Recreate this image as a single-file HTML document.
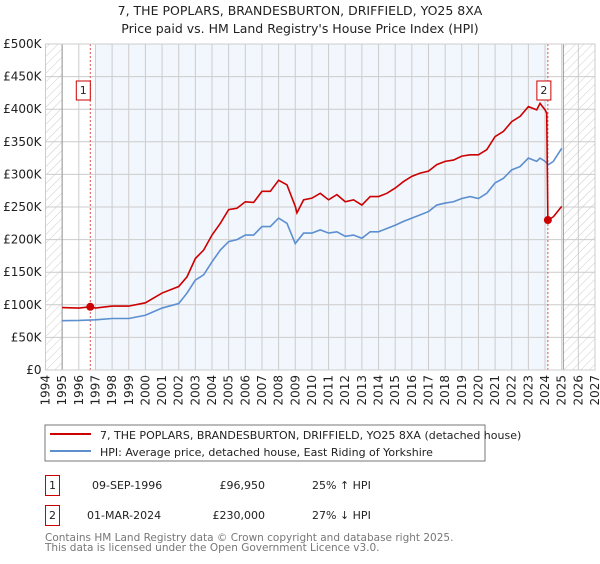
<!DOCTYPE html>
<html><head><meta charset="utf-8"><style>
body{margin:0;background:#fff;font-family:"DejaVu Sans","Liberation Sans",sans-serif;}
svg text{font-family:"DejaVu Sans","Liberation Sans",sans-serif;}
</style></head><body>
<svg id="c" width="600" height="560" xmlns="http://www.w3.org/2000/svg">
<defs><pattern id="hatch" width="6" height="6" patternUnits="userSpaceOnUse" patternTransform="rotate(45)"><line x1="0" y1="0" x2="0" y2="6" stroke="#ccc" stroke-width="1"/></pattern></defs>
<text x="300" y="15" text-anchor="middle" font-size="12.5" fill="#222">7, THE POPLARS, BRANDESBURTON, DRIFFIELD, YO25 8XA</text>
<text x="300" y="33" text-anchor="middle" font-size="12.5" fill="#222">Price paid vs. HM Land Registry's House Price Index (HPI)</text>
<g id="plot"></g>
<g>
<rect x="45" y="425" width="440" height="36" fill="#fff" stroke="#777" stroke-width="1"/>
<line x1="50" y1="434" x2="91" y2="434" stroke="#cc0000" stroke-width="2"/>
<text x="100" y="439" font-size="11" fill="#222">7, THE POPLARS, BRANDESBURTON, DRIFFIELD, YO25 8XA (detached house)</text>
<line x1="50" y1="451" x2="91" y2="451" stroke="#5b8fd0" stroke-width="2"/>
<text x="100" y="456" font-size="11" fill="#222">HPI: Average price, detached house, East Riding of Yorkshire</text>
</g>
<g font-size="11" fill="#222">
<rect x="45.5" y="475.5" width="14" height="20" fill="none" stroke="#cc0000"/>
<text x="52.5" y="489" text-anchor="middle">1</text>
<text x="92" y="489">09-SEP-1996</text>
<text x="265" y="489" text-anchor="end">£96,950</text>
<text x="312" y="489">25% ↑ HPI</text>
<rect x="45.5" y="505.5" width="14" height="20" fill="none" stroke="#cc0000"/>
<text x="52.5" y="519" text-anchor="middle">2</text>
<text x="87" y="519">01-MAR-2024</text>
<text x="265" y="519" text-anchor="end">£230,000</text>
<text x="312" y="519">27% ↓ HPI</text>
</g>
<text x="45" y="541" font-size="10.5" fill="#777">Contains HM Land Registry data © Crown copyright and database right 2025.</text>
<text x="45" y="551" font-size="10.5" fill="#777">This data is licensed under the Open Government Licence v3.0.</text>
</svg>
<script>
const yTicks=[0,50,100,150,200,250,300,350,400,450,500];
const yTickLabels=["£0","£50K","£100K","£150K","£200K","£250K","£300K","£350K","£400K","£450K","£500K"];
const years=[1994,1995,1996,1997,1998,1999,2000,2001,2002,2003,2004,2005,2006,2007,2008,2009,2010,2011,2012,2013,2014,2015,2016,2017,2018,2019,2020,2021,2022,2023,2024,2025,2026,2027];
const hpiX=[1995,1996,1997,1998,1999,2000,2001,2002,2002.5,2003,2003.5,2004,2004.5,2005,2005.5,2006,2006.5,2007,2007.5,2008,2008.5,2009,2009.5,2010,2010.5,2011,2011.5,2012,2012.5,2013,2013.5,2014,2014.5,2015,2015.5,2016,2016.5,2017,2017.5,2018,2018.5,2019,2019.5,2020,2020.5,2021,2021.5,2022,2022.5,2023,2023.5,2023.7,2024,2024.2,2024.5,2025];
const hpiY=[75.7,76,77,79,79,84,95,102,118,138,146,166,184,197,200,207,207,220,220,233,225,194,210,210,215,210,212,205,207,202,212,212,217,222,228,233,238,243,253,256,258,263,266,263,271,287,294,307,312,325,320,325,320,315,320,340];
const priceX=[1995,1996,1996.69,1997,1998,1999,2000,2001,2002,2002.5,2003,2003.5,2004,2004.5,2005,2005.5,2006,2006.5,2007,2007.5,2008,2008.5,2009,2009.1,2009.5,2010,2010.5,2011,2011.5,2012,2012.5,2013,2013.5,2014,2014.5,2015,2015.5,2016,2016.5,2017,2017.5,2018,2018.5,2019,2019.5,2020,2020.5,2021,2021.5,2022,2022.5,2023,2023.5,2023.7,2024,2024.1,2024.17,2024.5,2025];
const priceY=[95.7,95,96.95,95,98,98,103,118,128,143,171,184,207,225,246,248,258,257,274,274,291,284,251,241,261,263.6,271,261,269,258,261,253,266,266,271,279,289,297,302,305,315,320,322,328,330,330,338,358,366,381,389,404,399,409,399,394,230,235,251];
const saleX=[1996.69,2024.17];
const saleY=[96.95,230];
const saleLabels=["1","2"];

const NS="http://www.w3.org/2000/svg";
const L=45.5,R=595,T=44,B=370;
const xS=y=>L+(y-1994)*(R-L)/33;
const yS=v=>B-v*(B-T)/500;
const g=document.getElementById('plot');
function mk(t,a){const e=document.createElementNS(NS,t);for(const k in a)e.setAttribute(k,a[k]);g.appendChild(e);return e;}
let e;
e=mk('rect',{x:xS(1997),y:T,width:xS(2024.17)-xS(1997),height:B-T,fill:'#f2f6fd'});


e=mk('rect',{x:L,y:T,width:xS(1995)-L,height:B-T,fill:'url(#hatch)'});


e=mk('rect',{x:xS(2025.1),y:T,width:R-xS(2025.1),height:B-T,fill:'url(#hatch)'});


yTicks.forEach((v,i)=>{
 e=mk('line',{x1:L,x2:R,y1:yS(v),y2:yS(v),stroke:'#ccc','stroke-width':1});
 
 
 e=mk('text',{x:L-4,y:yS(v)+4,'text-anchor':'end','font-size':12,fill:'#222'});
 e.textContent=yTickLabels[i];
 
 
});
years.forEach(yr=>{
 e=mk('line',{x1:xS(yr),x2:xS(yr),y1:T,y2:B,stroke:'#ccc','stroke-width':1});
 
 
 const tx=xS(yr)+4,ty=B+5;
 e=mk('text',{x:tx,y:ty,transform:`rotate(-90 ${tx} ${ty})`,'text-anchor':'end','font-size':12,fill:'#222'});
 e.textContent=yr;
 
 
});
e=mk('line',{x1:xS(1995),x2:xS(1995),y1:T,y2:B,stroke:'#999','stroke-width':1});


e=mk('line',{x1:xS(2025.1),x2:xS(2025.1),y1:T,y2:B,stroke:'#999','stroke-width':1});


saleX.forEach((sx,i)=>{
 e=mk('line',{x1:xS(sx),x2:xS(sx),y1:T,y2:B,stroke:'#e05050','stroke-width':1,'stroke-dasharray':'2,2'});
 
 
});
e=mk('polyline',{points:hpiX.map((x,i)=>xS(x)+','+yS(hpiY[i])).join(' '),fill:'none',stroke:'#5b8fd0','stroke-width':1.6});


e=mk('polyline',{points:priceX.map((x,i)=>xS(x)+','+yS(priceY[i])).join(' '),fill:'none',stroke:'#cc0000','stroke-width':1.6});


saleX.forEach((sx,i)=>{
 e=mk('circle',{cx:xS(sx),cy:yS(saleY[i]),r:4,fill:'#cc0000'});
 
 
 const bx=xS(sx)-7-(i==0?7:4);
 e=mk('rect',{x:bx,y:81,width:14,height:19,fill:'#fff',stroke:'#cc0000'});
 
 
 e=mk('text',{x:bx+7,y:94,'text-anchor':'middle','font-size':11,fill:'#222'});
 e.textContent=saleLabels[i];
 
 
});
e=mk('rect',{x:L,y:T,width:R-L,height:B-T,fill:'none',stroke:'#ccc'});


</script>
</body></html>
